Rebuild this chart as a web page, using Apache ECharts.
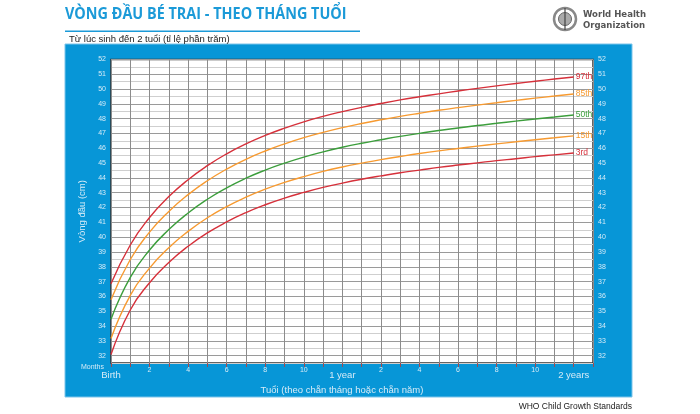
<!DOCTYPE html>
<html><head><meta charset="utf-8">
<script src="https://cdn.jsdelivr.net/npm/echarts@6/dist/echarts.min.js"></script>
<style>html,body{margin:0;padding:0;background:#fff}#c{width:700px;height:414px}</style>
</head><body><div id="c"></div>
<script>
var months = [0,1,2,3,4,5,6,7,8,9,10,11,12,13,14,15,16,17,18,19,20,21,22,23,24];
var p3  = [32.07,35.08,36.92,38.29,39.39,40.29,41.03,41.66,42.19,42.64,43.02,43.36,43.65,43.91,44.14,44.35,44.53,44.71,44.87,45.02,45.17,45.30,45.44,45.56,45.68];
var p15 = [33.15,36.07,37.91,39.29,40.39,41.31,42.07,42.70,43.24,43.70,44.09,44.44,44.74,45.00,45.24,45.45,45.65,45.83,45.99,46.15,46.30,46.44,46.58,46.71,46.84];
var p50 = [34.46,37.28,39.13,40.51,41.63,42.56,43.33,43.98,44.53,45.00,45.41,45.76,46.07,46.34,46.58,46.81,47.01,47.20,47.37,47.54,47.69,47.84,47.98,48.12,48.25];
var p85 = [35.78,38.49,40.34,41.74,42.87,43.81,44.60,45.26,45.82,46.30,46.72,47.08,47.40,47.68,47.93,48.16,48.37,48.57,48.75,48.92,49.08,49.24,49.39,49.53,49.67];
var p97 = [36.85,39.47,41.33,42.74,43.88,44.83,45.63,46.30,46.87,47.36,47.79,48.16,48.48,48.77,49.03,49.27,49.48,49.68,49.87,50.05,50.22,50.38,50.53,50.68,50.82];
var seriesNames = ['3rd','15th','50th','85th','97th'];
var seriesColors = ['#d6303a','#f79a30','#3c9e3c','#f79a30','#d6303a'];
var xTickLabels = {0:'Birth',2:'2',4:'4',6:'6',8:'8',10:'10',12:'1 year',14:'2',16:'4',18:'6',20:'8',22:'10',24:'2 years'};

var chart = echarts.init(document.getElementById('c'), null, {renderer:'canvas'});
var lab = '#d6ebf7';
function pairs(arr){ return months.map(function(m,i){return [m,arr[i]];}); }
var allData = [p3,p15,p50,p85,p97];
var series = allData.map(function(arr,i){
  return {
    type:'line', name:seriesNames[i], data:pairs(arr), smooth:0.5, symbol:'none',
    lineStyle:{color:seriesColors[i], width:1.4}, itemStyle:{color:seriesColors[i]},
    endLabel:{show:true, formatter:seriesNames[i], color:seriesColors[i], fontSize:8.5, distance:2, fontFamily:'Liberation Sans'},
    silent:true, z:5
  };
});
var option = {
  animation:false,
  graphic:[
    {type:'rect', shape:{x:65,y:44,width:567,height:353}, style:{fill:'#0796d7', stroke:'#7cc4ea', lineWidth:1}, z:-10},
    {type:'text', x:65, y:7, scaleX:0.93, style:{text:'VÒNG ĐẦU BÉ TRAI - THEO THÁNG TUỔI', fill:'#1b9ad8', font:'bold 15.5px "Open Sans"'}},
    {type:'rect', shape:{x:65,y:30.5,width:295,height:1.5}, style:{fill:'#1b9ad8'}},
    {type:'text', left:69, top:34, style:{text:'Từ lúc sinh đến 2 tuổi (tỉ lệ phần trăm)', fill:'#222', font:'9.5px "Liberation Sans"'}},
    {type:'text', left:583, top:9, style:{text:'World Health\nOrganization', fill:'#555', font:'bold 9.5px "DejaVu Sans Condensed"', lineHeight:11}},
    {type:'circle', shape:{cx:565,cy:19,r:11}, style:{fill:'#fff', stroke:'#888', lineWidth:2.5}},
    {type:'circle', shape:{cx:565,cy:19,r:6.5}, style:{fill:'#aaa', stroke:'#666', lineWidth:1}},
    {type:'line', shape:{x1:565,y1:8,x2:565,y2:30}, style:{stroke:'#444', lineWidth:1.2}},
    {type:'text', left:81, top:364, style:{text:'Months', fill:lab, font:'7px "Liberation Sans"'}},
    {type:'text', x:342, y:385, style:{text:'Tuổi (theo chẵn tháng hoặc chẵn năm)', fill:lab, font:'9.5px "Liberation Sans"', align:'center'}},
    {type:'text', right:68, top:402, style:{text:'WHO Child Growth Standards', fill:'#222', font:'8.5px "Liberation Sans"'}}
  ],
  grid:{left:111, right:107, top:59.5, bottom:51, show:true, backgroundColor:'#fff', borderColor:'#333', borderWidth:1.5, z:0},
  xAxis:{type:'value', min:0, max:25, interval:1,
    axisLine:{show:false},
    axisTick:{show:true, length:4, lineStyle:{color:'#a04a50', width:1}, interval:function(i,v){return v===12||v===24;}},
    axisLabel:{color:lab, fontSize:7, margin:4, fontFamily:'Liberation Sans',
      formatter:function(v){ var t=xTickLabels[v]; if(t===undefined) return ''; if(v%12===0) return '{e| }\n{b|'+t+'}'; return t; },
      rich:{e:{fontSize:3, lineHeight:3}, b:{fontSize:9.5, color:lab, fontFamily:'Liberation Sans', lineHeight:11}}},
    splitLine:{show:true, lineStyle:{color:'#8c8c8c', width:1}}
  },
  yAxis:[
    {type:'value', min:31.5, max:52, interval:0.5, position:'left',
     axisLine:{show:false}, axisTick:{show:false},
     axisLabel:{color:lab, fontSize:7, margin:5, fontFamily:'Liberation Sans', formatter:function(v){return v%1===0?String(v):'';}},
     splitLine:{show:true, lineStyle:{color:['#cfcfcf','#9a9a9a'], width:1}},
     name:'Vòng đầu (cm)', nameLocation:'middle', nameGap:15, nameRotate:90,
     nameTextStyle:{color:lab, fontSize:9.5, fontFamily:'Liberation Sans'}},
    {type:'value', min:31.5, max:52, interval:0.5, position:'right',
     axisLine:{show:false}, axisTick:{show:false}, splitLine:{show:false},
     axisLabel:{color:lab, fontSize:7, margin:5, fontFamily:'Liberation Sans', formatter:function(v){return v%1===0?String(v):'';}}}
  ],
  series:series
};
chart.setOption(option);
</script></body></html>
